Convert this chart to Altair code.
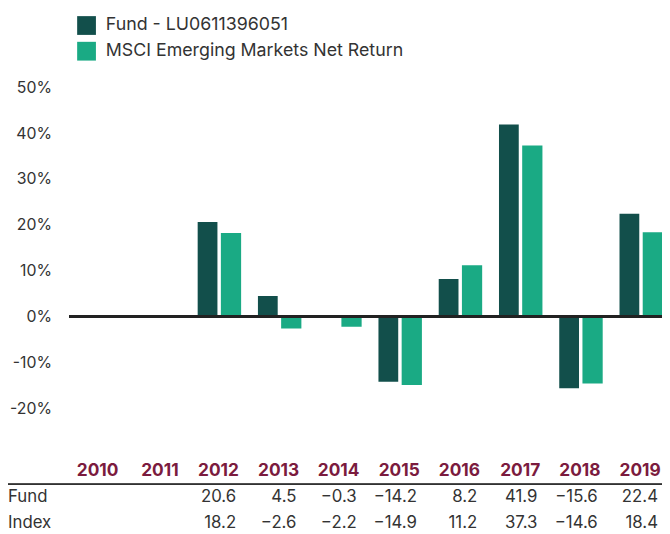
import altair as alt
import pandas as pd

years = [2010, 2011, 2012, 2013, 2014, 2015, 2016, 2017, 2018, 2019]
fund = [None, None, 20.6, 4.5, -0.3, -14.2, 8.2, 41.9, -15.6, 22.4]
index = [None, None, 18.2, -2.6, -2.2, -14.9, 11.2, 37.3, -14.6, 18.4]
series_names = ["Fund - LU0611396051", "MSCI Emerging Markets Net Return"]
row_labels = ["Fund", "Index"]
y_ticks = [-20, -10, 0, 10, 20, 30, 40, 50]
colors = ["#124f4b", "#1aaa84"]

FONT = "Inter"
TXT = "#333333"

bars_rows = []
for y, f, i in zip(years, fund, index):
    if f is not None:
        bars_rows.append({"year": y, "series": series_names[0], "value": f})
    if i is not None:
        bars_rows.append({"year": y, "series": series_names[1], "value": i})
bars_df = pd.DataFrame(bars_rows)

table_df = pd.DataFrame({"year": years, "fund": fund, "index": index})
labels_df = pd.DataFrame({"label": row_labels, "row": [0, 1]})

xscale = alt.Scale(domain=[2009.5, 2009.5 + 600 / 61.0], nice=False, zero=False)
yscale = alt.Scale(domain=[-20, 50], nice=False, zero=False)

bars = alt.Chart(bars_df).transform_calculate(
    x0=f"datum.year + (datum.series == '{series_names[0]}' ? -0.369 : 0.016)",
    x1=f"datum.year + (datum.series == '{series_names[0]}' ? -0.041 : 0.352)",
).mark_bar(clip=True).encode(
    x=alt.X("x0:Q", scale=xscale, axis=None),
    x2="x1:Q",
    y=alt.Y("value:Q", scale=yscale, axis=alt.Axis(
        values=y_ticks, labelExpr="datum.value + '%'", domain=False, ticks=False,
        grid=False, labelPadding=18, labelFontSize=16, labelColor=TXT,
        labelFont=FONT, title=None)),
    y2=alt.datum(0),
    color=alt.Color("series:N", scale=alt.Scale(domain=series_names, range=colors),
                    legend=alt.Legend(orient="none", legendX=8, legendY=-72, title=None,
                                      symbolType="square", symbolSize=361,
                                      labelFontSize=18, labelFont=FONT, labelColor=TXT,
                                      rowPadding=7, labelOffset=10, symbolStrokeWidth=0,
                                      labelLimit=500)),
)

zero = alt.Chart(bars_df).mark_rule(color="#222222", strokeWidth=2.5).encode(
    y=alt.datum(0, scale=yscale), x=alt.value(0), x2=alt.value(600)
)

sep = alt.Chart(bars_df).mark_rule(color="#333333", strokeWidth=1).encode(
    y=alt.value(402), x=alt.value(-62), x2=alt.value(600)
)

year_text = alt.Chart(table_df).transform_calculate(
    xt="datum.year + 0.315", lab="'' + datum.year"
).mark_text(align="right", baseline="middle", font=FONT, fontSize=17.5,
            fontWeight="bold", color="#7b1b3e").encode(
    x=alt.X("xt:Q", scale=xscale), y=alt.value(388), text="lab:N"
)

fund_text = alt.Chart(table_df).transform_filter("datum.fund != null").transform_calculate(
    xt="datum.year + 0.27", lab="format(datum.fund, '.1f')"
).mark_text(align="right", baseline="middle", font=FONT, fontSize=17, color=TXT).encode(
    x=alt.X("xt:Q", scale=xscale), y=alt.value(415), text="lab:N"
)

index_text = alt.Chart(table_df).transform_filter("datum.index != null").transform_calculate(
    xt="datum.year + 0.27", lab="format(datum.index, '.1f')"
).mark_text(align="right", baseline="middle", font=FONT, fontSize=17, color=TXT).encode(
    x=alt.X("xt:Q", scale=xscale), y=alt.value(441), text="lab:N"
)

row_text = alt.Chart(labels_df).transform_calculate(
    py="415 + datum.row * 26"
).mark_text(align="left", baseline="middle", font=FONT, fontSize=17, color=TXT).encode(
    x=alt.value(-62), y=alt.Y("py:Q", scale=None), text="label:N"
)

chart = alt.layer(bars, zero, sep, year_text, fund_text, index_text, row_text).properties(
    width=600, height=325,
    autosize=alt.AutoSizeParams(type="none"),
    padding={"left": 62, "top": 77, "right": 0, "bottom": 126},
).configure_view(stroke=None)

chart.save("out.html", embed_options={"renderer": "svg", "actions": False})
